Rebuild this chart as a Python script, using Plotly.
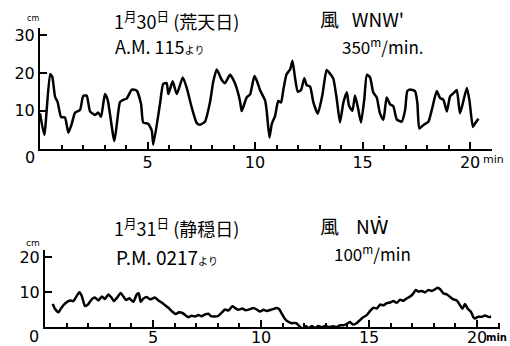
import plotly.graph_objects as go

# ---- data ----
# 1月30日 (荒天日) : time in minutes, height in cm
t_top = [0.00, 0.20, 0.47, 0.57, 0.70, 0.82, 0.98, 1.16, 1.32, 1.47, 1.63, 1.86, 2.01, 2.17,
         2.33, 2.56, 2.71, 2.84, 3.02, 3.15, 3.46, 3.72, 3.87, 4.03, 4.27, 4.50, 4.70, 4.80,
         5.04, 5.20, 5.27, 5.58, 5.73, 5.89, 5.97, 6.17, 6.36, 6.64, 6.82, 7.06, 7.29, 7.44,
         7.67, 7.91, 8.06, 8.22, 8.45, 8.60, 8.84, 9.07, 9.30, 9.38, 9.61, 9.77, 9.97, 10.08,
         10.23, 10.47, 10.54, 10.67, 10.78, 10.93, 11.08, 11.21, 11.32, 11.47, 11.63, 11.74,
         11.86, 11.99, 12.14, 12.29, 12.40, 12.56, 12.71, 12.92, 13.13, 13.33, 13.49, 13.64,
         13.80, 13.95, 14.11, 14.27, 14.37, 14.53, 14.65, 14.80, 14.93, 15.08, 15.20, 15.35,
         15.50, 15.66, 15.81, 15.97, 16.12, 16.28, 16.43, 16.59, 16.82, 16.98, 17.08, 17.21,
         17.44, 17.55, 17.64, 17.83, 18.06, 18.22, 18.45, 18.60, 18.76, 18.92, 19.07, 19.22,
         19.38, 19.53, 19.66, 19.85, 19.97, 20.13, 20.23, 20.39]
v_top = [9.3, 3.6, 19.7, 19.0, 13.7, 12.3, 8.3, 8.2, 4.2, 6.4, 9.5, 10.2, 13.9, 14.0,
         9.8, 8.9, 9.5, 8.4, 14.4, 12.8, 2.0, 12.3, 12.9, 13.2, 15.6, 15.3, 11.8, 6.9,
         6.5, 4.7, 1.0, 11.8, 17.1, 17.3, 14.4, 17.8, 14.4, 18.8, 16.1, 10.8, 6.7, 6.3,
         7.1, 12.4, 17.8, 20.9, 18.2, 17.3, 19.5, 17.2, 12.6, 9.9, 13.5, 14.3, 19.2, 18.0,
         15.5, 12.7, 10.1, 2.9, 6.5, 8.6, 12.6, 12.2, 15.7, 19.7, 20.9, 23.2,
         18.7, 15.0, 15.5, 18.6, 16.8, 16.4, 12.3, 9.2, 14.1, 20.8, 19.8, 18.5,
         13.1, 6.9, 12.2, 14.9, 11.3, 10.0, 14.0, 10.4, 6.9, 13.0, 19.5, 18.8,
         14.8, 13.5, 9.3, 7.6, 13.5, 11.7, 11.2, 7.7, 7.1, 10.2, 15.2, 15.6,
         15.2, 12.0, 5.3, 6.2, 7.1, 10.2, 15.2, 13.4, 12.9, 9.8, 13.8, 14.6,
         15.5, 9.3, 11.9, 16.0, 12.8, 5.7, 6.6, 7.9]

# 1月31日 (静穏日)
t_bot = [0.36, 0.46, 0.62, 0.73, 0.85, 1.00, 1.16, 1.31, 1.47, 1.59, 1.70, 1.85, 2.00, 2.16,
         2.31, 2.47, 2.63, 2.78, 2.93, 3.09, 3.19, 3.35, 3.50, 3.63, 3.75, 3.90, 4.09, 4.25,
         4.34, 4.43, 4.55, 4.71, 4.86, 5.09, 5.25, 5.40, 5.56, 5.71, 5.87, 6.05, 6.20, 6.36,
         6.51, 6.63, 6.79, 6.94, 7.10, 7.25, 7.41, 7.56, 7.69, 7.84, 8.02, 8.18, 8.33, 8.49,
         8.67, 8.80, 8.95, 9.13, 9.29, 9.44, 9.64, 9.80, 9.95, 10.11, 10.26, 10.50, 10.73,
         10.85, 10.96, 11.11, 11.26, 11.42, 11.62, 11.81, 11.96, 12.08, 12.19, 12.35, 12.50,
         12.65, 12.81, 12.96, 13.12, 13.35, 13.50, 13.66, 13.81, 13.97, 14.12, 14.25, 14.40,
         14.55, 14.71, 14.89, 15.05, 15.20, 15.36, 15.51, 15.66, 15.82, 15.97, 16.13, 16.28,
         16.44, 16.59, 16.75, 16.90, 17.05, 17.16, 17.28, 17.44, 17.59, 17.75, 17.90, 18.06,
         18.18, 18.29, 18.44, 18.60, 18.75, 18.90, 19.06, 19.21, 19.32, 19.44, 19.57, 19.72,
         19.83, 19.91, 20.03, 20.22, 20.37, 20.52, 20.65]
v_bot = [6.6, 5.2, 4.2, 5.2, 6.2, 7.1, 7.6, 7.4, 8.9, 9.9, 8.9, 6.0, 6.5, 7.9,
         8.4, 7.6, 8.7, 8.0, 9.3, 8.3, 7.4, 8.5, 9.7, 8.7, 7.7, 8.2, 7.2, 9.3,
         9.6, 7.2, 8.1, 8.6, 7.9, 8.4, 7.6, 7.0, 6.2, 5.5, 4.5, 3.7, 4.2, 4.0,
         3.3, 2.8, 3.2, 3.0, 3.4, 3.1, 3.6, 3.8, 3.1, 3.0, 3.2, 4.1, 5.0, 4.7,
         5.9, 5.4, 4.9, 5.3, 4.8, 5.0, 5.4, 5.0, 4.4, 4.9, 4.6, 5.0, 5.4,
         5.0, 3.8, 2.3, 1.5, 1.1, 1.1, 0.0, -1.0, 0.3, -0.4, 0.3, -0.3,
         0.3, -0.1, 0.3, 0.0, 0.2, 0.0, 0.5, 0.5, 0.9, 1.4, 0.7, 1.0,
         1.8, 2.7, 3.4, 4.6, 5.5, 5.3, 6.4, 6.2, 6.8, 7.0, 7.4, 6.9,
         7.8, 7.5, 8.2, 8.7, 9.6, 10.6, 10.1, 10.3, 9.9, 10.6, 10.3, 10.8,
         11.2, 10.8, 9.6, 9.3, 8.6, 7.9, 7.6, 6.2, 5.2, 6.6, 5.2, 4.3,
         2.8, 2.4, 2.9, 2.9, 3.3, 2.9, 2.9]

x_tickvals = [0, 5, 10, 15, 20]
x_ticktext = ["", "5", "10", "15", "20"]
y_top_ticks = [10, 20, 30]
y_top_text = ["10", "20", "30"]
y_bot_ticks = [10, 20]
y_bot_text = ["10", "20"]

W, H = 510, 346
def px(x):
    return x / W
def py(y):
    return 1 - y / H

NUM_FONT = "DejaVu Sans"
JP_FONT = "Noto Sans CJK JP"

fig = go.Figure()
line_style = dict(color="black", width=2.5, shape="spline", smoothing=0.5)
fig.add_trace(go.Scatter(x=t_top, y=v_top, mode="lines", line=line_style,
                         xaxis="x", yaxis="y", hoverinfo="skip"))
fig.add_trace(go.Scatter(x=t_bot, y=v_bot, mode="lines", line=line_style,
                         xaxis="x2", yaxis="y2", hoverinfo="skip"))

def xaxis_cfg(domain, rng, anchor, standoff):
    return dict(domain=domain, range=rng, anchor=anchor, showline=True, linecolor="black",
                linewidth=2, ticks="inside", tickvals=x_tickvals, ticktext=x_ticktext,
                ticklen=7, tickwidth=2, tickcolor="black", showgrid=False, zeroline=False,
                automargin=False, ticklabelstandoff=standoff,
                tickfont=dict(family=NUM_FONT, size=16, color="black"), fixedrange=True,
                minor=dict(tickmode="linear", tick0=0, dtick=1, ticks="inside", ticklen=4,
                           tickwidth=1.5, tickcolor="black", showgrid=False))

def yaxis_cfg(domain, rng, anchor, tv, tt):
    return dict(domain=domain, range=rng, anchor=anchor, showline=True, linecolor="black",
                linewidth=2, ticks="inside", tickvals=tv, ticktext=tt, ticklen=7,
                tickwidth=2, tickcolor="black", showgrid=False, zeroline=False,
                automargin=False,
                tickfont=dict(family=NUM_FONT, size=16, color="black"), fixedrange=True)

annotations = []
def ann(text, x, y, size=15, xanchor="left", yanchor="middle", family=JP_FONT):
    annotations.append(dict(text=text, x=px(x), y=py(y), xref="paper", yref="paper",
                            xanchor=xanchor, yanchor=yanchor, showarrow=False,
                            font=dict(family=family, size=size, color="black")))

# top panel texts
ann("1<sup>月</sup>30<sup>日</sup> (荒天日)", 112, 20, size=18)
ann("A.M. 115<span style='font-size:10px'>より</span>", 113, 46, size=18)
ann("風   WNW'", 318, 18, size=19)
ann("350<sup>m</sup>/min.", 340, 46, size=17)
ann("cm", 33, 19, size=8, xanchor="center", family=NUM_FONT)
ann("0", 30, 157, size=16, xanchor="center", family=NUM_FONT)
ann("min", 481, 159, size=11, family=NUM_FONT)
# bottom panel texts
ann("1<sup>月</sup>31<sup>日</sup> (静穏日)", 112, 227, size=18)
ann("P.M. 0217<span style='font-size:10px'>より</span>", 114, 256, size=19)
ann("風    N<span style='font-family:DejaVu Sans'>Ẇ</span>", 318, 225, size=19)
ann("100<sup>m</sup>/min", 332, 253, size=17)
ann("cm", 33, 243, size=9, xanchor="center", family=NUM_FONT)
ann("0", 34, 336, size=16, xanchor="center", family=NUM_FONT)
ann("<b>min</b>", 484, 337, size=10, family=NUM_FONT)

fig.update_layout(
    width=W, height=H,
    margin=dict(l=0, r=0, t=0, b=0, pad=0),
    paper_bgcolor="white", plot_bgcolor="white",
    showlegend=False,
    xaxis=xaxis_cfg([px(40), px(492)], [0, 21.02], "y", -2),
    yaxis=yaxis_cfg([py(148.5), py(28)], [0, 31.9], "x", y_top_ticks, y_top_text),
    xaxis2=xaxis_cfg([px(45), px(500)], [0, 21.06], "y2", -5),
    yaxis2=yaxis_cfg([py(327), py(250)], [0, 22.0], "x2", y_bot_ticks, y_bot_text),
    annotations=annotations,
)

fig.write_html("out.html", config={"displayModeBar": False},
               post_script="document.body.style.margin='0';document.body.style.overflow='hidden';")
